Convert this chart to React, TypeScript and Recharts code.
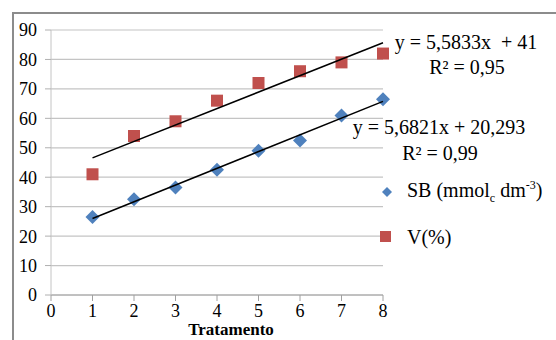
import {
  CartesianGrid,
  Legend,
  Scatter,
  ScatterChart,
  XAxis,
  YAxis,
} from "recharts";

const treatments = [1, 2, 3, 4, 5, 6, 7, 8];
const sbValues = [26.5, 32.5, 36.5, 42.5, 49, 52.5, 61, 66.5];
const vValues = [41, 54, 59, 66, 72, 76, 79, 82];

const xTicks = [0, 1, 2, 3, 4, 5, 6, 7, 8];
const yTicks = [0, 10, 20, 30, 40, 50, 60, 70, 80, 90];

// linear trend fits as printed next to the series
const sbFit = { slope: 5.6821, intercept: 20.293, label: "y = 5,6821x + 20,293", r2: "R² = 0,99" };
const vFit = { slope: 5.5833, intercept: 41, label: "y = 5,5833x  + 41", r2: "R² = 0,95" };

const BLUE = "#4F81BD";
const RED = "#C0504D";
const FONT = "Liberation Serif, DejaVu Serif, serif";

const sbData = treatments.map((x, i) => ({ x, y: sbValues[i] }));
const vData = treatments.map((x, i) => ({ x, y: vValues[i] }));

const trend = (fit: { slope: number; intercept: number }) => {
  const x0 = treatments[0];
  const x1 = treatments[treatments.length - 1];
  return [
    { x: x0, y: fit.intercept + fit.slope * x0 },
    { x: x1, y: fit.intercept + fit.slope * x1 },
  ];
};

const Diamond = (props: any) => {
  const { cx, cy } = props;
  const r = 7;
  return (
    <polygon
      points={`${cx},${cy - r} ${cx + r},${cy} ${cx},${cy + r} ${cx - r},${cy}`}
      fill={BLUE}
    />
  );
};

const Square = (props: any) => {
  const { cx, cy } = props;
  return <rect x={cx - 6} y={cy - 6} width={12} height={12} fill={RED} />;
};

const NoDot = () => <g />;

function LegendBox() {
  return (
    <div style={{ fontFamily: FONT, fontSize: 20, color: "#000" }}>
      <div style={{ display: "flex", alignItems: "center", height: 24 }}>
        <svg width={22} height={14}>
          <polygon points="7,2 12,7 7,12 2,7" fill={BLUE} />
        </svg>
        <span style={{ marginLeft: 5 }}>
          SB (mmol<sub style={{ fontSize: 12 }}>c</sub> dm
          <sup style={{ fontSize: 12 }}>-3</sup>)
        </span>
      </div>
      <div style={{ display: "flex", alignItems: "center", height: 24, marginTop: 21 }}>
        <svg width={22} height={14}>
          <rect x={0} y={1} width={11} height={11} fill={RED} />
        </svg>
        <span style={{ marginLeft: 5 }}>V(%)</span>
      </div>
    </div>
  );
}

export default function App() {
  const tick = { fontSize: 18, fill: "#000", fontFamily: FONT };
  return (
    <div style={{ position: "relative", width: 556, height: 340, overflow: "hidden", background: "#fff", fontFamily: FONT }}>
      <style>{`body { margin: 0; }`}</style>
      <div
        style={{
          position: "absolute",
          left: 12,
          top: 12,
          width: 600,
          height: 400,
          borderLeft: "2px solid #8c8c8c",
          borderTop: "2px solid #8c8c8c",
        }}
      />
      <ScatterChart
        width={556}
        height={340}
        margin={{ top: 30, right: 173, bottom: 0, left: 0 }}
        style={{ position: "absolute", left: 0, top: 0, fontFamily: FONT }}
      >
        <CartesianGrid vertical={false} stroke="#c4c4c4" strokeWidth={1.2} />
        <XAxis
          type="number"
          dataKey="x"
          domain={[0, 8]}
          ticks={xTicks}
          height={45}
          tick={tick}
          tickSize={6}
          tickMargin={3}
          tickLine={{ stroke: "#a0a0a0" }}
          axisLine={{ stroke: "#a0a0a0" }}
          label={{
            value: "Tratamento",
            position: "insideBottom",
            offset: 5,
            dx: 14,
            style: { fontFamily: FONT, fontSize: 17, fontWeight: "bold", fill: "#000" },
          }}
        />
        <YAxis
          type="number"
          dataKey="y"
          domain={[0, 90]}
          ticks={yTicks}
          width={51}
          tick={tick}
          tickSize={6}
          tickMargin={8}
          tickLine={{ stroke: "#b0b0b0" }}
          axisLine={{ stroke: "#c4c4c4" }}
        />
        <Legend
          layout="vertical"
          align="center"
          verticalAlign="middle"
          wrapperStyle={{ left: 380, top: 180, width: 176 }}
          content={() => <LegendBox />}
        />
        <Scatter name="SB" data={sbData} shape={Diamond} isAnimationActive={false} />
        <Scatter name="V" data={vData} shape={Square} isAnimationActive={false} />
        <Scatter
          data={trend(sbFit)}
          line={{ stroke: "#000", strokeWidth: 1.5 }}
          shape={NoDot}
          legendType="none"
          isAnimationActive={false}
        />
        <Scatter
          data={trend(vFit)}
          line={{ stroke: "#000", strokeWidth: 1.5 }}
          shape={NoDot}
          legendType="none"
          isAnimationActive={false}
        />
      </ScatterChart>
      <svg
        width={556}
        height={340}
        style={{ position: "absolute", left: 0, top: 0, pointerEvents: "none", fontFamily: FONT }}
        fontSize={20}
        fill="#000"
      >
        <text x={466} y={49} textAnchor="middle" style={{ whiteSpace: "pre" }}>{vFit.label}</text>
        <text x={467} y={74} textAnchor="middle">{vFit.r2}</text>
        <text x={439} y={134} textAnchor="middle">{sbFit.label}</text>
        <text x={440} y={160} textAnchor="middle">{sbFit.r2}</text>
      </svg>
    </div>
  );
}
